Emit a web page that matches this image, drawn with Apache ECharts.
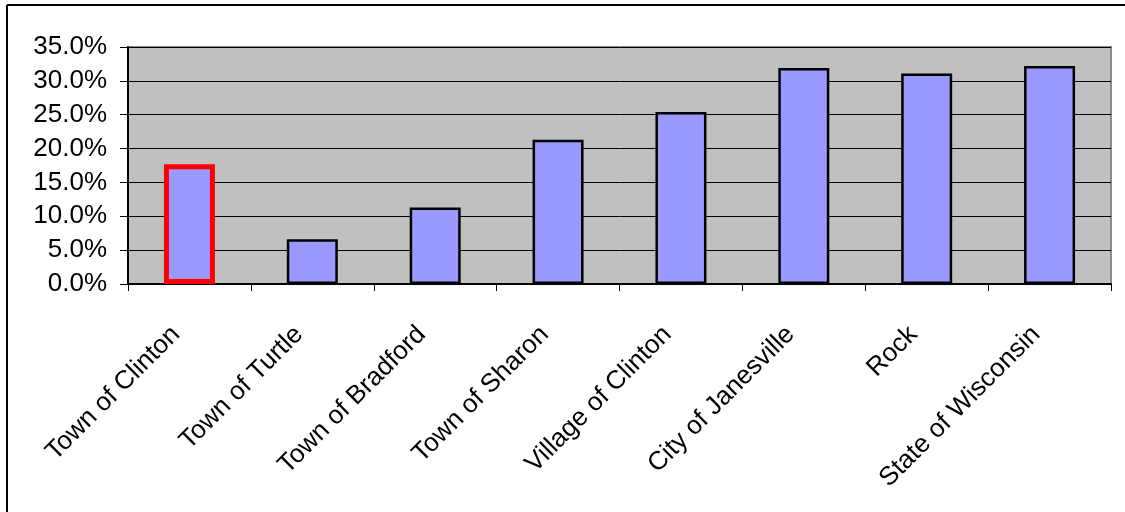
<!DOCTYPE html>
<html>
<head>
<meta charset="utf-8">
<style>
  html, body { margin: 0; padding: 0; background: #ffffff; }
  #chart { width: 1125px; height: 512px; }
</style>
<script src="https://cdn.jsdelivr.net/npm/echarts@6/dist/echarts.min.js"></script>
</head>
<body>
<div id="chart"></div>
<script>
// Share of population by place (percent)
const categories = [
  'Town of Clinton', 'Town of Turtle', 'Town of Bradford', 'Town of Sharon',
  'Village of Clinton', 'City of Janesville', 'Rock', 'State of Wisconsin'
];
const values = [17.7, 6.6, 11.3, 21.3, 25.4, 31.9, 31.1, 32.2];
const highlighted = 'Town of Clinton';

const yMin = 0;
const yMax = 35;
const yStep = 5;

const FONT = '"Liberation Sans", Arial, sans-serif';

const chart = echarts.init(document.getElementById('chart'), null, { renderer: 'canvas' });

const barData = values.map((v, i) => {
  if (categories[i] === highlighted) {
    return { value: v, itemStyle: { borderColor: '#FF0000', borderWidth: 5 } };
  }
  return v;
});

chart.setOption({
  animation: false,
  backgroundColor: '#ffffff',
  grid: {
    left: 128, right: 14, top: 47, bottom: 228,
    show: true,
    backgroundColor: '#C0C0C0',
    borderColor: '#8c8c8c',
    borderWidth: 2
  },
  xAxis: {
    type: 'category',
    data: categories,
    boundaryGap: true,
    axisLine: { show: true, lineStyle: { color: '#000', width: 2 } },
    axisTick: { show: true, alignWithLabel: false, length: 7, lineStyle: { color: '#000', width: 1 } },
    axisLabel: {
      rotate: 45,
      interval: 0,
      margin: 33,
      padding: [0, 19, 0, 0],
      color: '#000',
      fontFamily: FONT,
      fontSize: 26
    },
    splitLine: { show: false }
  },
  yAxis: {
    type: 'value',
    min: yMin, max: yMax, interval: yStep,
    axisLine: { show: true, lineStyle: { color: '#000', width: 2 } },
    axisTick: { show: true, length: 8, lineStyle: { color: '#000', width: 1 } },
    axisLabel: {
      margin: 21,
      color: '#000',
      fontFamily: FONT,
      fontSize: 26,
      formatter: v => v.toFixed(1) + '%'
    },
    splitLine: { show: true, lineStyle: { color: '#000', width: 1 } }
  },
  series: [{
    type: 'bar',
    data: barData,
    barWidth: 51,
    itemStyle: { color: '#9999FF', borderColor: '#000', borderWidth: 2.5 }
  }],
  graphic: [
    { type: 'line', shape: { x1: 7, y1: 5, x2: 1125, y2: 5 }, style: { stroke: '#000', lineWidth: 2 } },
    { type: 'line', shape: { x1: 7, y1: 5, x2: 7, y2: 512 }, style: { stroke: '#000', lineWidth: 2 } }
  ]
});
</script>
</body>
</html>
